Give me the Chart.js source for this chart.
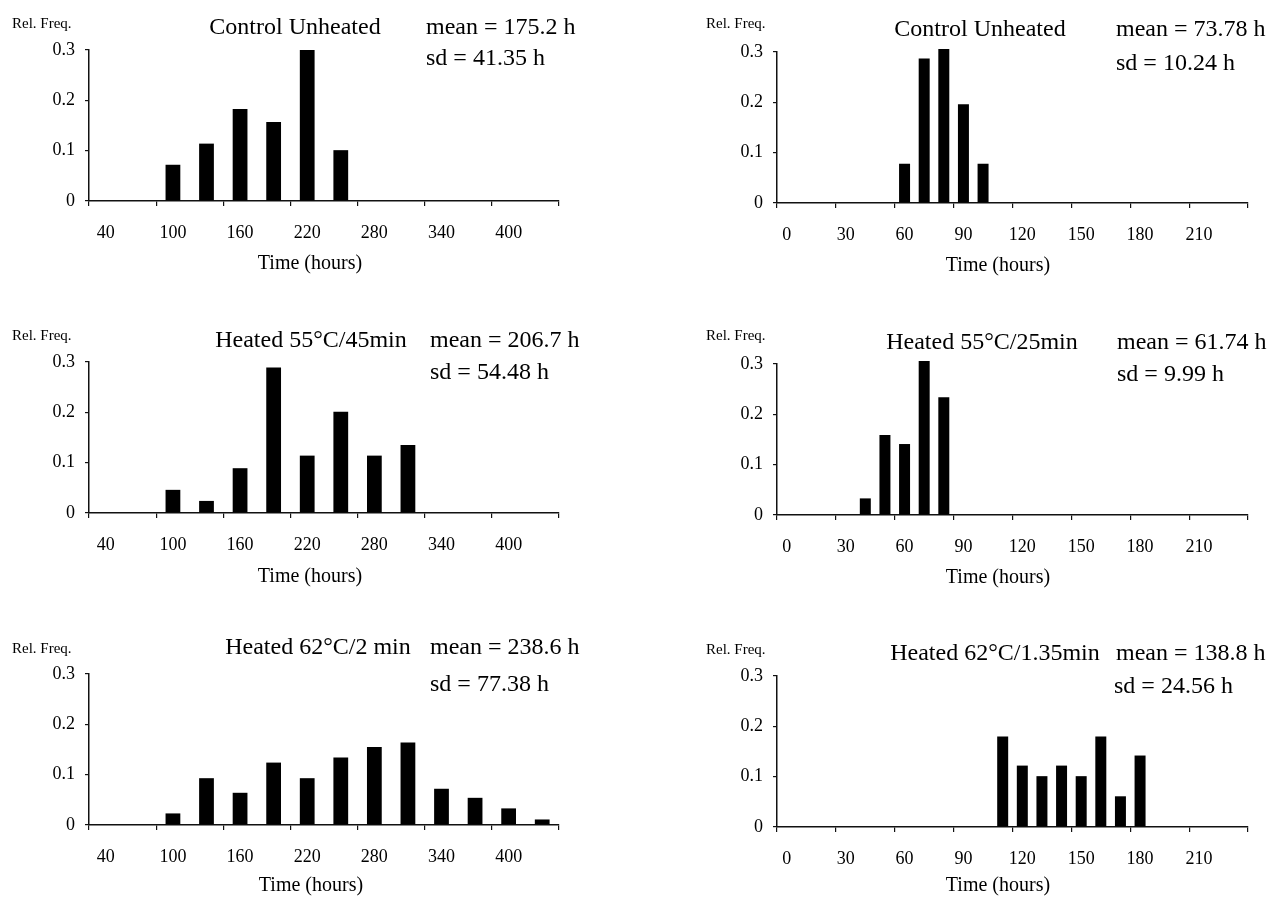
<!DOCTYPE html>
<html>
<head>
<meta charset="utf-8">
<script src="https://cdn.jsdelivr.net/npm/chart.js@4/dist/chart.umd.min.js"></script>
<style>
html,body{margin:0;padding:0;background:#fff;}
body{width:1272px;height:897px;position:relative;overflow:hidden;font-family:"Liberation Serif","Times New Roman",serif;color:#000;}
.panel{position:absolute;width:636px;height:300px;}
.panel canvas{position:absolute;left:0;top:0;}
.txt{position:absolute;white-space:pre;line-height:1;color:#000;}
.big{font-size:24px;transform:translateY(-50%);}
.ctr{font-size:24px;transform:translate(-50%,-50%);}
.axt{font-size:20px;transform:translate(-50%,-50%);}
.small{font-size:15px;transform:translateY(-50%);}
</style>
</head>
<body>
<script>
// ---------- data ----------
const leftCategories  = [40, 70, 100, 130, 160, 190, 220, 250, 280, 310, 340, 370, 400, 430];
const rightCategories = [0, 10, 20, 30, 40, 50, 60, 70, 80, 90, 100, 110, 120, 130, 140, 150, 160, 170, 180, 190, 200, 210, 220, 230];
const leftTickLabels  = [40, 100, 160, 220, 280, 340, 400];
const rightTickLabels = [0, 30, 60, 90, 120, 150, 180, 210];
const yTickLabels     = [0, 0.1, 0.2, 0.3];

const controlLong   = [0, 0, 0.072, 0.114, 0.183, 0.157, 0.300, 0.101, 0, 0, 0, 0, 0, 0];
const heated55_45   = [0, 0, 0.046, 0.024, 0.089, 0.289, 0.114, 0.201, 0.114, 0.135, 0, 0, 0, 0];
const heated62_2    = [0, 0, 0.023, 0.093, 0.064, 0.124, 0.093, 0.134, 0.155, 0.164, 0.072, 0.054, 0.033, 0.011];
const controlShort  = [0, 0, 0, 0, 0, 0, 0.078, 0.287, 0.306, 0.196, 0.078, 0, 0, 0, 0, 0, 0, 0, 0, 0, 0, 0, 0, 0];
const heated55_25   = [0, 0, 0, 0, 0.033, 0.159, 0.141, 0.306, 0.234, 0, 0, 0, 0, 0, 0, 0, 0, 0, 0, 0, 0, 0, 0, 0];
const heated62_135  = [0, 0, 0, 0, 0, 0, 0, 0, 0, 0, 0, 0.180, 0.122, 0.101, 0.122, 0.101, 0.180, 0.061, 0.142, 0, 0, 0, 0, 0];

const titles = ["Control Unheated", "Control Unheated", "Heated 55°C/45min", "Heated 55°C/25min", "Heated 62°C/2 min", "Heated 62°C/1.35min"];
const means  = ["mean = 175.2 h", "mean = 73.78 h", "mean = 206.7 h", "mean = 61.74 h", "mean = 238.6 h", "mean = 138.8 h"];
const sds    = ["sd = 41.35 h", "sd = 10.24 h", "sd = 54.48 h", "sd = 9.99 h", "sd = 77.38 h", "sd = 24.56 h"];
const yLabelText = "Rel. Freq.";
const xTitleText = "Time (hours)";

// ---------- layout ----------
const FONT = '"Liberation Serif", "Times New Roman", serif';
const panels = [
  {x:0,   y:0,   cats:leftCategories,  ticks:leftTickLabels,  data:controlLong,  step:2, bar:0.44, yW:89,  padR:77,
   rf:[12,23], t:[295,26], m:[426,26], s:[426,57], xt:[310,262]},
  {x:636, y:2,   cats:rightCategories, ticks:rightTickLabels, data:controlShort, step:3, bar:0.56, yW:141, padR:24,
   rf:[70,21], t:[344,26], m:[480,26], s:[480,60], xt:[362,262]},
  {x:0,   y:312, cats:leftCategories,  ticks:leftTickLabels,  data:heated55_45,  step:2, bar:0.44, yW:89,  padR:77,
   rf:[12,23], t:[311,27], m:[430,27], s:[430,59], xt:[310,263]},
  {x:636, y:314, cats:rightCategories, ticks:rightTickLabels, data:heated55_25,  step:3, bar:0.56, yW:141, padR:24,
   rf:[70,21], t:[346,27], m:[481,27], s:[481,59], xt:[362,262]},
  {x:0,   y:624, cats:leftCategories,  ticks:leftTickLabels,  data:heated62_2,   step:2, bar:0.44, yW:89,  padR:77,
   rf:[12,24], t:[318,22], m:[430,22], s:[430,59], xt:[311,260]},
  {x:636, y:626, cats:rightCategories, ticks:rightTickLabels, data:heated62_135, step:3, bar:0.56, yW:141, padR:24,
   rf:[70,23], t:[359,26], m:[480,26], s:[478,59], xt:[362,258]}
];

function addText(parent, cls, txt, pos) {
  const d = document.createElement('div');
  d.className = 'txt ' + cls;
  d.textContent = txt;
  d.style.left = pos[0] + 'px';
  d.style.top = pos[1] + 'px';
  parent.appendChild(d);
}

panels.forEach((p, k) => {
  const div = document.createElement('div');
  div.className = 'panel';
  div.style.left = p.x + 'px';
  div.style.top = p.y + 'px';
  document.body.appendChild(div);
  const cv = document.createElement('canvas');
  cv.width = 636; cv.height = 300;
  cv.style.width = '636px'; cv.style.height = '300px';
  div.appendChild(cv);

  addText(div, 'small', yLabelText, p.rf);
  addText(div, 'ctr', titles[k], p.t);
  addText(div, 'big', means[k], p.m);
  addText(div, 'big', sds[k], p.s);
  addText(div, 'axt', xTitleText, p.xt);

  const tickSet = new Set(p.ticks);
  new Chart(cv.getContext('2d'), {
    type: 'bar',
    data: {
      labels: p.cats.map(String),
      datasets: [{
        data: p.data,
        backgroundColor: '#000',
        borderWidth: 0,
        barPercentage: p.bar,
        categoryPercentage: 1,
        clip: false
      }]
    },
    options: {
      responsive: false,
      animation: false,
      devicePixelRatio: 1,
      layout: {padding: {left: 0, right: p.padR, top: 50, bottom: 0}},
      plugins: {legend: {display: false}, tooltip: {enabled: false}},
      scales: {
        x: {
          offset: true,
          border: {display: true, color: '#111', width: 1.5},
          grid: {
            offset: true, drawOnChartArea: false, drawTicks: true, tickLength: 5, lineWidth: 1.2,
            color: (c) => (c.index === undefined || c.index % p.step === 0) ? '#111' : 'rgba(0,0,0,0)'
          },
          ticks: {
            autoSkip: false, maxRotation: 0, minRotation: 0, padding: 16, color: '#000',
            font: {family: FONT, size: 18},
            callback: (v, i) => tickSet.has(p.cats[i]) ? String(p.cats[i]) : ''
          },
          title: {display: false},
          afterFit: (s) => { s.height = 99; }
        },
        y: {
          min: 0, max: 0.3,
          border: {display: true, color: '#111', width: 1.5},
          grid: {drawOnChartArea: false, drawTicks: true, tickLength: 4, color: '#111', lineWidth: 1.2},
          ticks: {
            stepSize: 0.1, padding: 10, color: '#000', font: {family: FONT, size: 18},
            callback: (v) => {
              const hit = yTickLabels.find(t => Math.abs(t - v) < 1e-9);
              return hit === undefined ? '' : String(hit);
            }
          },
          afterFit: (s) => { s.width = p.yW; }
        }
      }
    }
  });
});
</script>
</body>
</html>
